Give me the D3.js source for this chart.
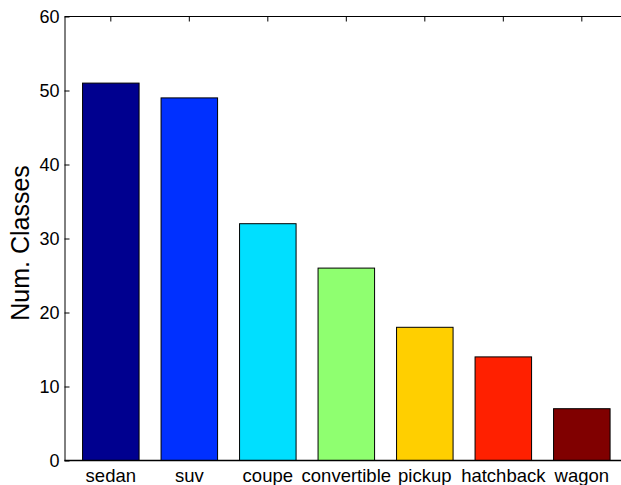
<!DOCTYPE html>
<html>
    <head>
        <meta charset="utf-8">
        <title>Num. Classes</title>
        <script type="text/javascript" src="https://d3js.org/d3.v7.min.js"></script>
        <style>
            body { margin: 0; background: #fff; }
            svg { display: block; font-family: "Liberation Sans", Arial, Helvetica, sans-serif; }
        </style>
    </head>
    <body>
        <div class="chart"></div>

        <script type="text/javascript">
            let categories = [ 'sedan', 'suv', 'coupe', 'convertible', 'pickup', 'hatchback', 'wagon' ];
            let counts = [ 51, 49, 32, 26, 18, 14, 7 ];
            let colors = [ '#00008f', '#0030ff', '#00dfff', '#8fff70', '#ffcf00', '#ff2000', '#800000' ];
            let yTicks = [ 0, 10, 20, 30, 40, 50, 60 ];

            let width = 621;
            let height = 485;
            let padLeft = 64.5, padTop = 16.5, padBottom = 460.5;

            let svg = d3.select('.chart')
                .append('svg')
                    .attr('width', width)
                    .attr('height', height);

            // bar index 1..7, axes box runs off the right edge
            let x = d3.scaleLinear().domain([0.41, 8]).range([padLeft, padLeft + 7.59 * 78.5]);
            let y = d3.scaleLinear().domain([0, 60]).range([padBottom, padTop]);
            let barW = x(1.72) - x(1);

            svg.selectAll('rect.bar')
                .data(counts)
                .enter()
                .append('rect')
                    .attr('class', 'bar')
                    .attr('x', (d, i) => x(i + 1) - barW / 2)
                    .attr('y', d => y(d))
                    .attr('width', barW)
                    .attr('height', d => y(0) - y(d))
                    .attr('fill', (d, i) => colors[i])
                    .attr('stroke', '#000')
                    .attr('stroke-width', 1);

            let yAxis = d3.axisLeft(y)
                .tickValues(yTicks)
                .tickSizeInner(-5)
                .tickSizeOuter(0)
                .tickPadding(5);

            let ya = svg.append('g')
                .attr('transform', `translate(${padLeft},0)`)
                .call(yAxis);
            ya.select('.domain').attr('stroke', '#000');
            ya.selectAll('text')
                .attr('font-size', 18)
                .attr('fill', '#000')
                .style('font-family', '"Liberation Sans", Arial, sans-serif');

            // top edge with inward ticks
            svg.append('line')
                .attr('x1', padLeft).attr('x2', width)
                .attr('y1', padTop).attr('y2', padTop)
                .attr('stroke', '#000');
            svg.selectAll('line.topTick')
                .data(categories)
                .enter()
                .append('line')
                    .attr('class', 'topTick')
                    .attr('x1', (d, i) => x(i + 1)).attr('x2', (d, i) => x(i + 1))
                    .attr('y1', padTop).attr('y2', padTop + 5)
                    .attr('stroke', '#000');

            // baseline
            svg.append('line')
                .attr('x1', padLeft).attr('x2', width)
                .attr('y1', padBottom).attr('y2', padBottom)
                .attr('stroke', '#000')
                .attr('stroke-width', 1.6);

            svg.selectAll('text.cat')
                .data(categories)
                .enter()
                .append('text')
                    .attr('class', 'cat')
                    .attr('x', (d, i) => x(i + 1))
                    .attr('y', 481.5)
                    .attr('text-anchor', 'middle')
                    .attr('font-size', 18.5)
                    .text(d => d);

            svg.append('text')
                .attr('transform', 'translate(28.5,243) rotate(-90)')
                .attr('text-anchor', 'middle')
                .attr('font-size', 25)
                .text('Num. Classes');
        </script>
    </body>
</html>
